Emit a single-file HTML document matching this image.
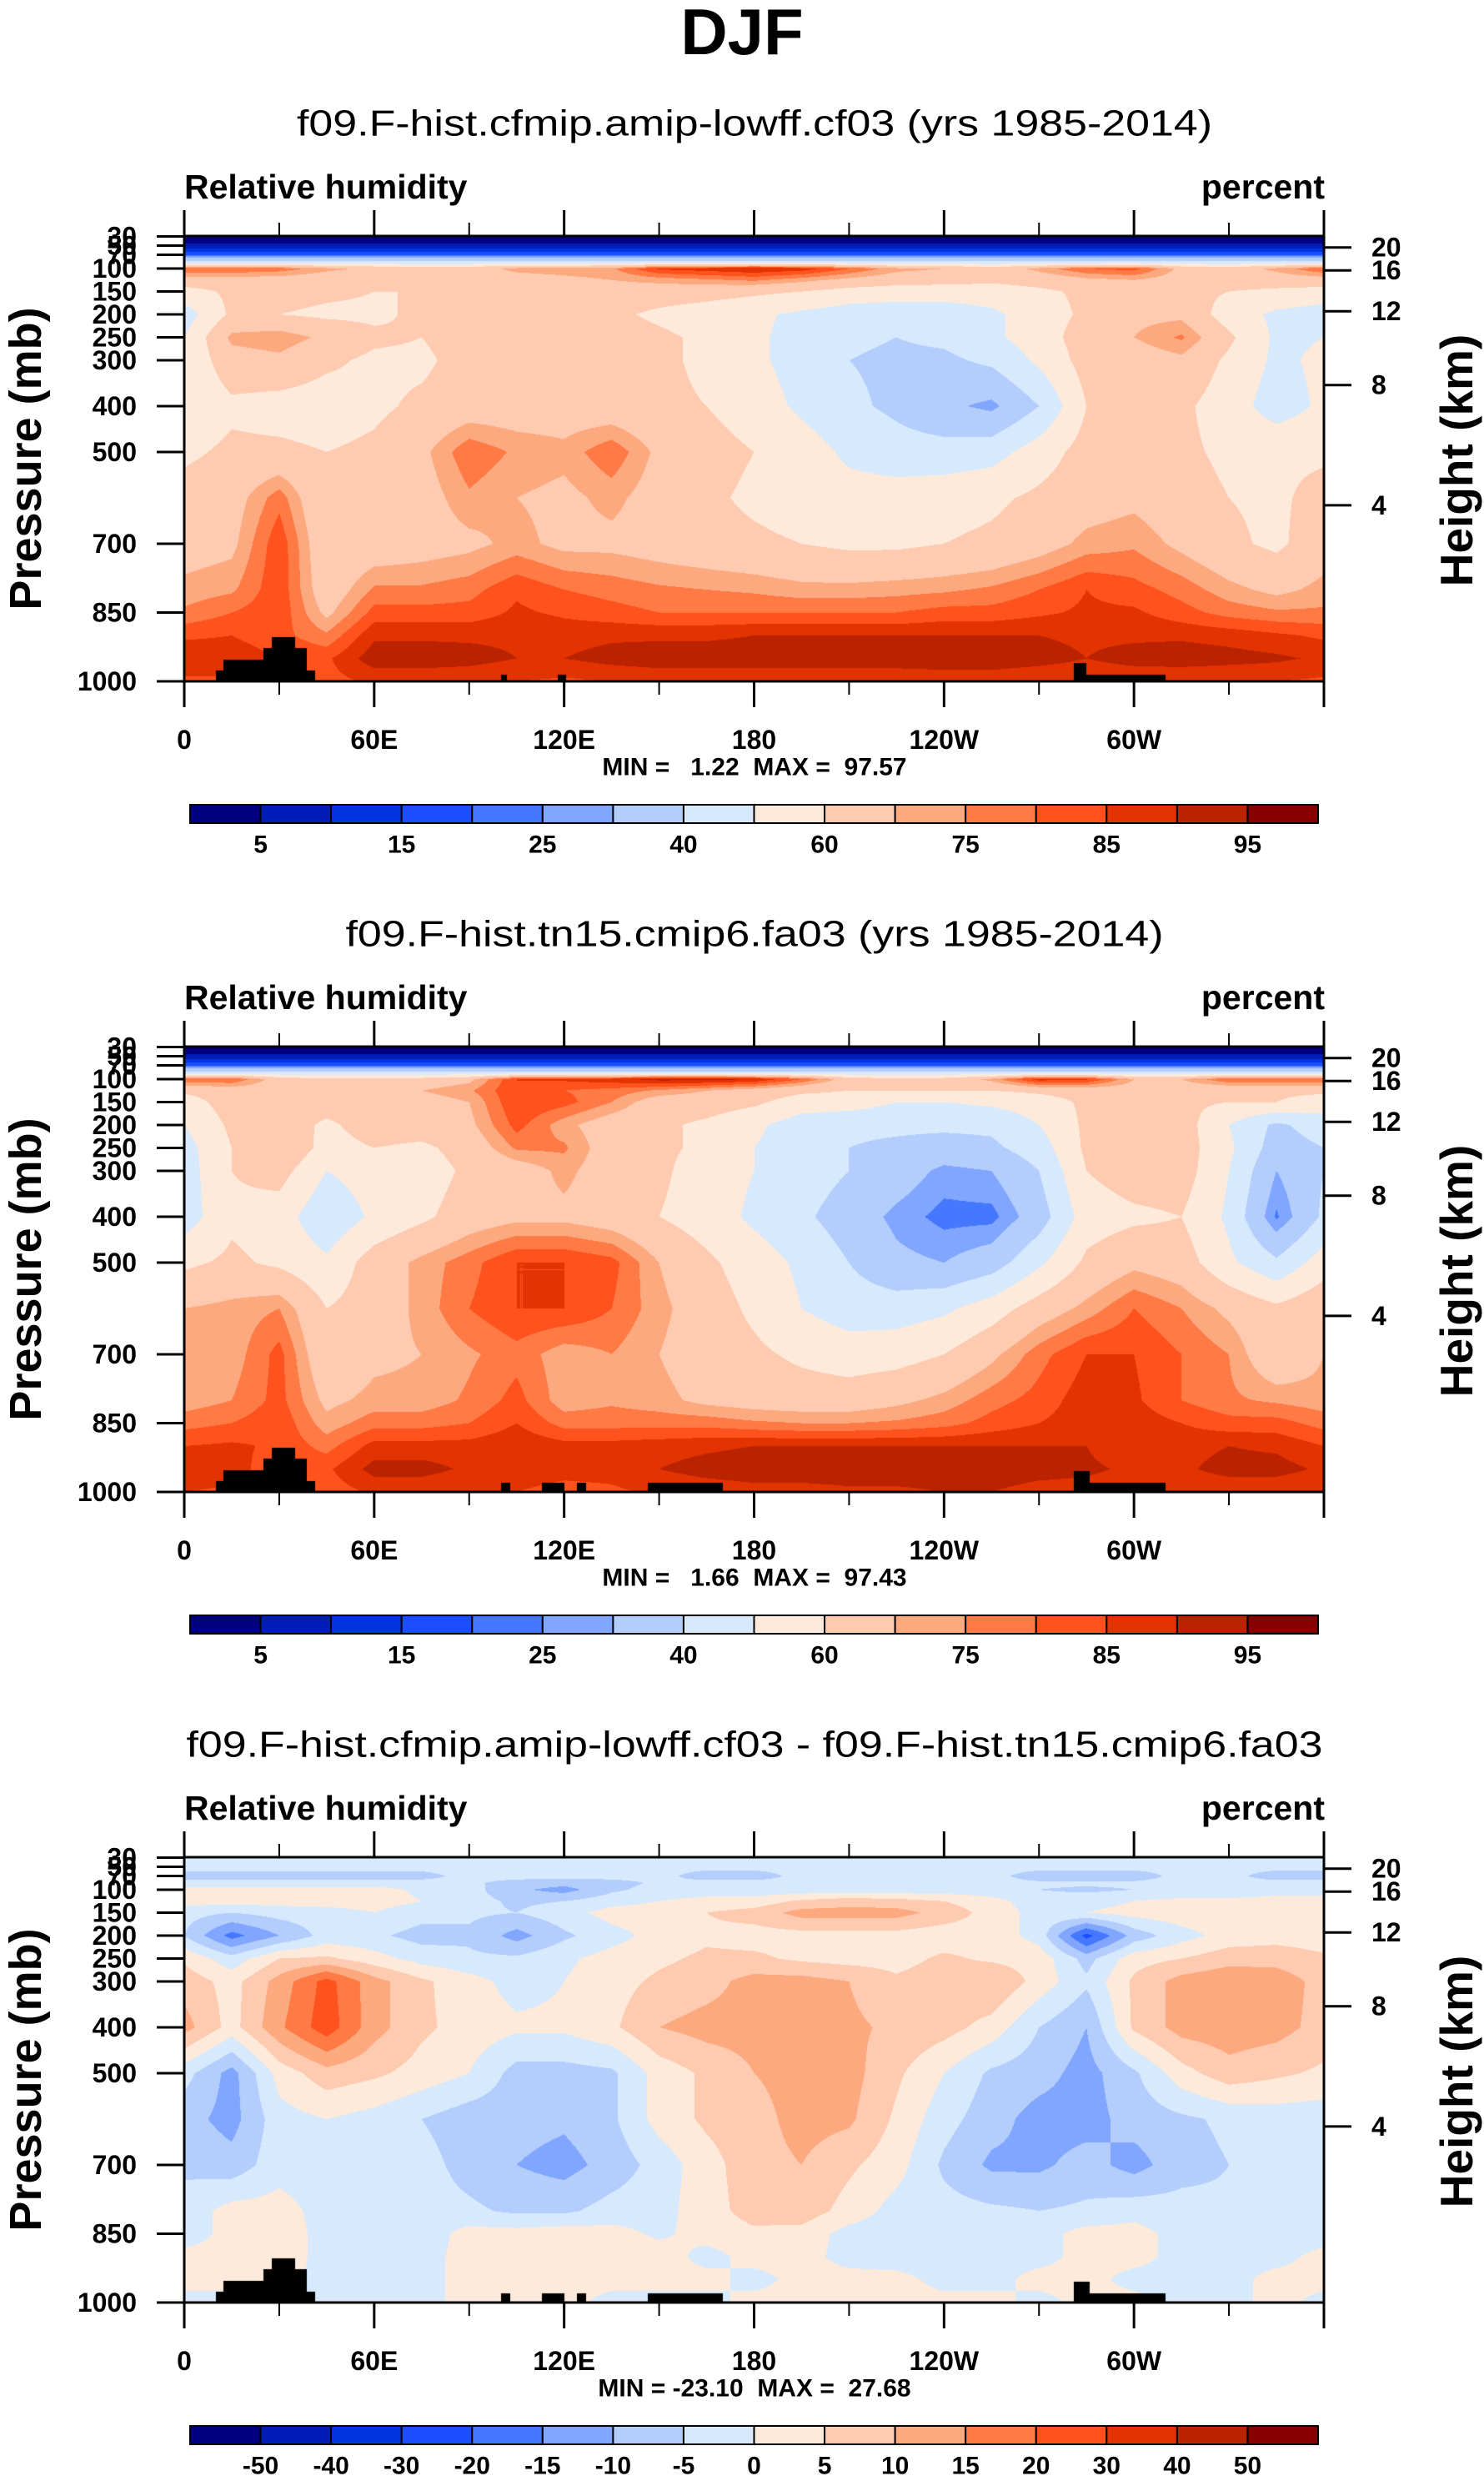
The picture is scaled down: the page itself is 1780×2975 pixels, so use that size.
<!DOCTYPE html>
<html><head><meta charset="utf-8">
<style>
html,body{margin:0;padding:0;background:#fff;}
body{width:1780px;height:2975px;position:relative;overflow:hidden;font-family:"Liberation Sans",sans-serif;}
canvas{position:absolute;}
#ov{position:absolute;left:0;top:0;}
text{font-family:"Liberation Sans",sans-serif;font-weight:bold;fill:#000;}
text.normal{font-weight:normal;}
</style></head>
<body>
<svg id="ov" width="1780" height="2975"></svg>
<script>
// ---------------- data ----------------
const lons = [0,15,30,45,60,75,90,105,120,135,150,165,180,195,210,225,240,255,270,285,300,315,330,345,360];
const plevs = [30,50,70,85,100,125,150,200,250,300,400,500,600,700,800,850,900,950,1000];
const fill = (v)=>lons.map(()=>v);
const rh1 = [
fill(2),fill(6),fill(20),fill(42),
[80,80,78,72,68,65,66,72,73,74,86,88,90,88,80,72,70,65,72,80,82,68,65,72,80],
[66,66,66,64,64,63,64,66,68,70,72,74,76,72,68,65,64,62,64,68,70,66,64,65,66],
[56,62,64,62,60,60,62,64,65,66,65,64,62,60,56,54,54,55,58,62,64,63,60,58,56],
[45,62,60,58,58,62,66,66,68,62,58,55,52,48,45,45,45,48,55,62,68,68,55,48,45],
[50,72,74,68,62,60,65,65,70,65,62,58,52,46,42,40,42,48,55,65,70,76,62,48,50],
[52,66,68,62,58,58,64,65,65,65,62,58,52,46,40,38,38,42,52,64,65,68,58,48,52],
[52,58,56,55,58,62,65,65,65,64,62,60,55,48,42,38,32,28,40,60,62,62,55,45,52],
[58,62,62,60,62,68,79,74,72,79,68,64,60,55,48,44,44,46,55,64,66,62,58,58,58],
[64,66,78,60,62,66,74,70,68,72,66,62,58,55,54,55,56,58,62,66,68,64,60,58,64],
[66,68,84,62,64,66,68,72,68,68,66,64,62,60,58,58,60,62,66,72,74,68,62,58,66],
[72,74,84,64,76,76,78,84,80,78,76,75,74,72,72,73,74,76,80,85,82,78,72,68,72],
[76,80,84,68,82,82,82,86,84,82,80,80,80,80,80,80,82,82,84,86,86,82,78,76,76],
[84,85,82,76,89,89,89,89,88,89,89,89,90,90,90,90,90,90,90,89,89,89,88,86,84],
[89,88,85,84,93,93,92,90,90,92,93,93,93,93,93,93,93,93,92,90,92,93,92,91,89],
[84,84,83,83,86,86,86,85,84,85,86,86,86,86,86,86,87,87,86,86,86,85,85,85,84]];
const rh2 = [
fill(2),fill(6),fill(20),fill(42),
[80,80,66,62,62,64,68,85,86,88,92,92,90,80,66,62,64,72,88,86,70,70,80,80,80],
[62,65,65,65,65,70,74,85,80,78,74,70,66,62,60,60,60,60,62,64,66,64,62,62,62],
[55,65,65,65,65,66,70,85,82,75,65,65,62,55,55,50,50,52,55,62,64,62,60,60,55],
[50,62,66,58,65,65,68,82,72,65,62,58,52,45,42,42,42,42,50,62,70,65,50,38,45],
[46,60,70,56,60,58,64,76,76,65,62,58,50,45,40,38,36,38,45,62,68,65,52,35,40],
[45,60,64,50,55,55,62,65,72,65,62,55,50,45,40,35,28,30,40,60,65,65,50,30,40],
[45,58,55,42,52,58,65,68,68,65,60,55,48,42,35,28,23,23,35,55,58,60,48,24,42],
[58,62,58,52,65,72,78,85,85,82,70,62,55,48,40,32,30,35,48,62,68,65,52,42,55],
[70,72,75,60,65,72,80,85,85,80,72,65,58,50,45,45,48,55,65,72,80,75,68,62,68],
[72,72,82,62,68,70,74,78,72,75,70,65,62,58,55,56,60,68,78,85,85,80,75,62,70],
[72,75,82,68,72,72,76,82,72,74,72,68,66,65,65,68,72,78,82,88,86,80,76,74,72],
[78,80,84,72,78,78,80,85,78,78,78,78,76,75,75,76,78,82,85,88,88,85,82,82,78],
[85,86,84,78,87,87,87,89,87,87,88,89,90,90,90,90,90,90,90,90,86,88,90,89,85],
[89,87,82,84,92,92,89,88,87,87,90,92,93,93,93,93,93,93,92,91,89,89,92,92,89],
[85,84,82,82,86,86,85,85,83,84,86,87,88,88,89,89,90,90,88,88,87,86,86,86,85]];
const rhDiff = [
fill(-3),fill(-3),
[-7,-7,-7,-7,-7,-7,-3,-3,-3,-3,-3,-8,-8,-3,-3,-3,-3,-3,-8,-8,-8,-3,-3,-8,-8],
[-3,-3,-3,-3,-3,-3,-4,-7,-8,-7,-4,-3,-3,-3,-3,-3,-3,-3,-4,-4,-4,-3,-3,-3,-3],
[2,2,2,2,2,-1,-3,-9,-12,-6,-3,-3,-3,-3,-3,-3,-3,-3,-5,-6,-5,-5,-5,-2,-2],
[2,2,2,2,2,0,-3,-6,-5,-2,0,2,2,6,8,7,5,2,-3,-2,0,2,2,2,2],
[-3,-5,-3,-2,0,-3,-4,-5,-2,2,3,5,7,12,12,12,8,3,-2,0,2,3,3,4,3],
[-5,-17,-10,-3,-4,-7,-6,-12,-6,-2,2,4,3,3,3,3,2,3,-2,-22,-8,-2,2,3,2],
[4,-3,5,6,2,-2,-4,-4,-1,2,4,6,6,4,3,3,6,4,3,-7,3,5,8,8,6],
[8,3,12,22,12,6,2,-2,0,3,6,8,12,12,10,6,8,10,3,-4,6,12,14,13,8],
[12,3,14,23,12,6,3,1,1,4,10,12,12,11,11,9,7,3,-5,-10,6,12,13,12,8],
[-3,-12,2,8,6,3,0,-7,-7,-6,2,6,10,12,12,6,0,-6,-8,-12,-6,3,8,6,4],
[-8,-12,-2,0,-2,-5,-8,-8,-9,-6,2,6,8,12,11,4,-3,-8,-12,-12,-8,-6,-4,-3,-3],
[-6,-8,-2,-3,-2,-3,-7,-10,-12,-8,-3,3,8,10,6,2,-6,-11,-11,-8,-12,-7,-5,-4,-4],
[-3,2,2,-2,-3,-3,-4,-6,-6,-3,-2,3,7,8,3,-2,-3,-4,-5,-4,-2,-3,-4,-4,-4],
[-3,2,3,-2,-3,-3,2,2,3,2,-1,2,4,3,-2,-3,-3,-3,-2,2,2,-2,-3,-3,-3],
[2,2,3,-2,-3,-2,2,3,3,3,3,-2,2,2,-2,-3,-3,-2,-2,2,2,-2,-2,-2,2],
[2,2,2,-2,-2,-2,2,2,2,2,2,2,-2,2,2,2,-2,-2,2,2,-2,-2,-2,2,2],
[-2,-2,2,-2,-2,-2,2,2,2,-2,-2,-2,2,2,2,2,2,2,-2,2,2,-2,-2,2,-2]];
const levelsRH = [5,10,15,20,25,30,40,50,60,70,75,80,85,90,95];
const levelsDiff = [-50,-40,-30,-20,-15,-10,-5,0,5,10,15,20,30,40,50];
const palette = ["#000080","#001db8","#0035e0","#1b4eff","#4578ff","#80a6ff","#b3cdfd","#d6e9fd","#feeadb","#fecbb1","#fda97f","#ff7a45","#ff521d","#e23300","#ba2200","#890000"];
const topoLeft = [[10,12.3,977],[12.3,25,952],[25,27.6,928],[27.6,35,903],[35,38.7,928],[38.7,41.4,977]];
const topo1 = topoLeft.concat([[100,102,985],[118,120.5,985],[281,285,960],[285,310,985]]);
const topo23 = topoLeft.concat([[100,103,980],[113,120,980],[124,127,980],[146.5,170,980],[281,286,955],[286,310,980]]);
const xTickLabels = ["0","60E","120E","180","120W","60W"];
const xTickVals = [0,60,120,180,240,300];
const pTickVals = [30,50,70,100,150,200,250,300,400,500,700,850,1000];
const zTickLabels = ["20","16","12","8","4"];
const zTickP = [54,104,193,354,616];
const titles = ["f09.F-hist.cfmip.amip-lowff.cf03 (yrs 1985-2014)","f09.F-hist.tn15.cmip6.fa03 (yrs 1985-2014)","f09.F-hist.cfmip.amip-lowff.cf03 - f09.F-hist.tn15.cmip6.fa03"];
const titleWidths = [1098,981,1363];
const minmax = ["MIN =   1.22  MAX =  97.57","MIN =   1.66  MAX =  97.43","MIN = -23.10  MAX =  27.68"];
const offsets = [0,972,1944];

// ---------------- layout ----------------
const PX=221, PW=1367, PY=283, PH=534, PTOP=29, PBOT=1000;
const xOf = lon => PX + lon/360*PW;
const yOf = (p,off) => off + PY + (p-PTOP)/(PBOT-PTOP)*PH;
const NS="http://www.w3.org/2000/svg";
const svg=document.getElementById('ov');
function el(tag,attrs,parent){const e=document.createElementNS(NS,tag);for(const k in attrs)e.setAttribute(k,attrs[k]);(parent||svg).appendChild(e);return e;}
function txt(s,x,y,size,anchor,parent,extra){const t=el('text',Object.assign({x:x,y:y,'font-size':size,'text-anchor':anchor||'middle','dominant-baseline':'central'},extra||{}),parent);t.textContent=s;return t;}

const main=txt("DJF",890,38,78,'middle');



function interp(field,lon,p){
  let c=Math.min(23,Math.floor(lon/15)); let fx=(lon-lons[c])/15;
  let r=0; while(r<plevs.length-2 && p>plevs[r+1]) r++;
  let fy=(p-plevs[r])/(plevs[r+1]-plevs[r]); fy=Math.max(0,Math.min(1,fy));
  const a=field[r][c],b=field[r][c+1],d=field[r+1][c],e=field[r+1][c+1];
  return (a*(1-fx)+b*fx)*(1-fy)+(d*(1-fx)+e*fx)*fy;
}
function hex(h){return [parseInt(h.substr(1,2),16),parseInt(h.substr(3,2),16),parseInt(h.substr(5,2),16)];}
const palRGB=palette.map(hex);

function drawField(field,levels,topo,off,idx){
  const cv=document.createElement('canvas');
  cv.width=PW;cv.height=PH;cv.style.left=PX+'px';cv.style.top=(off+PY)+'px';
  
  
  document.body.insertBefore(cv,svg);
  const ctx=cv.getContext('2d');const img=ctx.createImageData(PW,PH);const d=img.data;
  for(let j=0;j<PH;j++){
    const p=PTOP+(j+0.5)/PH*(PBOT-PTOP);
    for(let i=0;i<PW;i++){
      const lon=(i+0.5)/PW*360;
      let col;
      let black=false;
      for(const t of topo){ if(lon>=t[0]&&lon<t[1]&&p>=t[2]){black=true;break;} }
      if(black) col=[0,0,0];
      else{
        const v=interp(field,lon,p);
        let k=0; while(k<levels.length && v>=levels[k]) k++;
        col=palRGB[k];
      }
      const o=(j*PW+i)*4;d[o]=col[0];d[o+1]=col[1];d[o+2]=col[2];d[o+3]=255;
    }
  }
  ctx.putImageData(img,0,0);
}

function drawPanel(idx,field,levels,topo,labelsAll){
  const off=offsets[idx];
  const g=el('g',{});
  
  
  drawField(field,levels,topo,off,idx);
  const t=txt(titles[idx],905,off+148,44,'middle',g,{'class':'normal','textLength':titleWidths[idx],'lengthAdjust':'spacingAndGlyphs'});
  
  
  const lt=txt("Relative humidity",PX,off+224,41,'start',g);
  
  
  const rt=txt("percent",PX+PW+1,off+224,41,'end',g);
  
  
  const fr=el('rect',{x:PX,y:off+PY,width:PW,height:PH,fill:'none',stroke:'#000','stroke-width':3},g);
  
  
  for(let lon=0;lon<=360;lon+=30){
    const x=xOf(lon); const major=(lon%60===0); const L=major?31:16;
    el('line',{x1:x,y1:off+PY+PH,x2:x,y2:off+PY+PH+L,stroke:'#000','stroke-width':major?3:2},g);
    el('line',{x1:x,y1:off+PY,x2:x,y2:off+PY-L,stroke:'#000','stroke-width':major?3:2},g);
  }
  xTickVals.forEach((v,k)=>{const tl=txt(xTickLabels[k],xOf(v),off+887,32,'middle',g);
    
    });
  pTickVals.forEach(p=>{const y=yOf(p,off);
    el('line',{x1:PX,y1:y,x2:PX-33,y2:y,stroke:'#000','stroke-width':3},g);
    const tl=txt(String(p),164,y,32,'end',g);
    
    });
  zTickP.forEach((p,k)=>{const y=yOf(p,off);
    el('line',{x1:PX+PW,y1:y,x2:PX+PW+33,y2:y,stroke:'#000','stroke-width':3},g);
    const tl=txt(zTickLabels[k],1645,y,32,'start',g);
    
    });
  const ya=txt("Pressure (mb)",0,0,54,'middle',g,{transform:`translate(31,${off+550}) rotate(-90)`});
  
  
  const yb=txt("Height (km)",0,0,55,'middle',g,{transform:`translate(1747,${off+552}) rotate(-90)`});
  
  
  const mm=txt(minmax[idx],905,off+920,30,'middle',g,{'xml:space':'preserve','style':'white-space:pre'});
  
  
  const cb=el('g',{},g);
  
  
  const CX=228,CW=1353,CY=off+965,CH=22,bw=CW/16;
  palette.forEach((c,k)=>{const r=el('rect',{x:CX+k*bw,y:CY,width:bw,height:CH,fill:c,stroke:'#000','stroke-width':2},cb);
    
    });
  levels.forEach((v,k)=>{ if(labelsAll || k%2===0){const tl=txt(String(v),CX+(k+1)*bw,off+1013,30,'middle',cb);
    
    }});
}
drawPanel(0,rh1,levelsRH,topo1,false);
drawPanel(1,rh2,levelsRH,topo23,false);
drawPanel(2,rhDiff,levelsDiff,topo23,true);
</script>
</body></html>
